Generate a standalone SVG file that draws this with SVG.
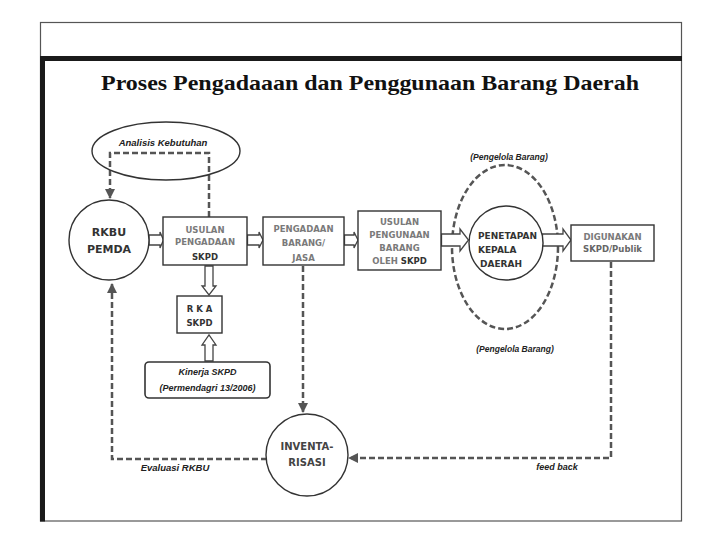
<svg xmlns="http://www.w3.org/2000/svg" width="720" height="540" viewBox="0 0 720 540">
  <defs>
    <marker id="ah" markerUnits="userSpaceOnUse" markerWidth="10" markerHeight="10" viewBox="0 0 10 10" refX="9" refY="5" orient="auto">
      <path d="M0,0 L10,5 L0,10 Z" fill="#555"/>
    </marker>
    <style>
      .box { fill: #fff; stroke: #333; stroke-width: 1.4; }
      .circ { fill: #fff; stroke: #333; stroke-width: 1.4; }
      .dash { fill: none; stroke: #555; stroke-width: 2.5; stroke-dasharray: 6 3; }
      .barrow { fill: #fff; stroke: #444; stroke-width: 1.3; stroke-linejoin: miter; }
      .t { font-family: "DejaVu Sans", Verdana, sans-serif; font-weight: bold; text-anchor: middle; }
      .it { font-family: "Liberation Sans", Arial, sans-serif; font-weight: bold; font-style: italic; text-anchor: middle; fill: #222; }
      .g { fill: #7a7a7a; }
      .d { fill: #333; }
    </style>
  </defs>

  <rect width="720" height="540" fill="#fff"/>

  <!-- frame -->
  <g id="frame">
    <rect x="40.5" y="22.5" width="641" height="498.5" fill="none" stroke="#555" stroke-width="1.2"/>
    <rect x="40" y="56" width="642" height="5" fill="#1a1a1a"/>
    <rect x="40" y="56" width="5" height="465.5" fill="#1a1a1a"/>
  </g>

  <text id="title" x="370" y="90" font-family="'Liberation Serif', 'Times New Roman', serif" font-weight="bold" font-size="22" text-anchor="middle" textLength="538" lengthAdjust="spacingAndGlyphs" fill="#111">Proses Pengadaaan dan Penggunaan Barang Daerah</text>

  <!-- connectors -->
  <g id="connectors">
    <path class="dash" d="M209,217 V153 H110 V198" marker-end="url(#ah)"/>
    <path class="dash" d="M267,459 H112 V284" marker-end="url(#ah)"/>
    <path class="dash" d="M303,266 V412" marker-end="url(#ah)"/>
    <path class="dash" d="M611,262 V458 H349" marker-end="url(#ah)"/>
    <ellipse class="dash" cx="505" cy="247" rx="53" ry="82" stroke-dasharray="7 4"/>
    <!-- block arrows -->
    <path class="barrow" d="M149,235 H160 V232 L163.5,240 L160,248 V245 H149 Z"/>
    <path class="barrow" d="M247.5,235 H259 V232 L263,240 L259,248 V245 H247.5 Z"/>
    <path class="barrow" d="M344.5,235 H354 V232 L358,240 L354,248 V245 H344.5 Z"/>
    <path class="barrow" d="M441.5,234 H460 V229 L468.5,240 L460,251 V246 H441.5 Z"/>
    <path class="barrow" d="M542.5,234 H563 V229 L571,240 L563,251 V246 H542.5 Z"/>
    <path class="barrow" d="M205,266 V286 H202 L209,295 L216,286 H213 V266 Z"/>
    <path class="barrow" d="M205,361 V345 H202 L209,335 L216,345 H213 V361 Z"/>
  </g>

  <!-- nodes -->
  <g id="analisis">
    <ellipse cx="166" cy="151" rx="74" ry="29" fill="none" stroke="#333" stroke-width="1.4"/>
    <text class="it" x="163" y="146" font-size="9.5">Analisis Kebutuhan</text>
  </g>

  <g id="rkbu">
    <circle class="circ" cx="109" cy="240" r="40"/>
    <text class="t d" x="109" y="236" font-size="11">RKBU</text>
    <text class="t d" x="109" y="253" font-size="11">PEMDA</text>
  </g>

  <g id="usulan-pengadaan">
    <rect class="box" x="163" y="217" width="84" height="48"/>
    <text class="t g" x="205" y="233" font-size="8.5">USULAN</text>
    <text class="t g" x="205" y="245" font-size="8.5">PENGADAAN</text>
    <text class="t d" x="205" y="260" font-size="8.5">SKPD</text>
  </g>

  <g id="pengadaan">
    <rect class="box" x="263" y="217" width="81" height="48"/>
    <text class="t g" x="303.5" y="232" font-size="8.5">PENGADAAN</text>
    <text class="t g" x="303.5" y="246" font-size="8.5">BARANG/</text>
    <text class="t g" x="303.5" y="261" font-size="8.5">JASA</text>
  </g>

  <g id="usulan-pengunaan">
    <rect class="box" x="358" y="211" width="83" height="59"/>
    <text class="t g" x="399.5" y="225" font-size="8.5">USULAN</text>
    <text class="t g" x="399.5" y="238" font-size="8.5">PENGUNAAN</text>
    <text class="t g" x="399.5" y="251" font-size="8.5">BARANG</text>
    <text class="t" x="399.5" y="264" font-size="8.5"><tspan class="g">OLEH </tspan><tspan class="d">SKPD</tspan></text>
  </g>

  <g id="penetapan">
    <circle class="circ" cx="506" cy="243" r="37"/>
    <text class="t d" x="478" y="239" font-size="9" style="text-anchor:start">PENETAPAN</text>
    <text class="t d" x="478" y="253" font-size="9" style="text-anchor:start">KEPALA</text>
    <text class="t d" x="480" y="267" font-size="9" style="text-anchor:start">DAERAH</text>
    <text class="it" x="509" y="160" font-size="8.5">(Pengelola Barang)</text>
    <text class="it" x="515" y="352" font-size="8.5">(Pengelola Barang)</text>
  </g>

  <g id="digunakan">
    <rect class="box" x="571" y="225" width="83" height="36"/>
    <text class="t g" x="612.5" y="240" font-size="8.5">DIGUNAKAN</text>
    <text class="t" x="612.5" y="252" font-size="8.5" fill="#666">SKPD/Publik</text>
  </g>

  <g id="rka">
    <rect class="box" x="177" y="296" width="45" height="37"/>
    <text class="t d" x="199.5" y="312" font-size="8.5">R K A</text>
    <text class="t d" x="199.5" y="326" font-size="8.5">SKPD</text>
  </g>

  <g id="kinerja">
    <rect x="145" y="362" width="125" height="36" rx="4" fill="#fff" stroke="#333" stroke-width="1.6"/>
    <text class="it" x="207.5" y="375" font-size="9">Kinerja SKPD</text>
    <text class="it" x="207.5" y="391" font-size="9">(Permendagri 13/2006)</text>
  </g>

  <g id="inventarisasi">
    <circle class="circ" cx="307" cy="455" r="41"/>
    <text class="t" x="307" y="450" font-size="10" fill="#444">INVENTA-</text>
    <text class="t" x="307" y="466" font-size="10" fill="#444">RISASI</text>
  </g>

  <g id="labels">
    <text class="it" x="175" y="471" font-size="9.5">Evaluasi RKBU</text>
    <text class="it" x="557" y="470" font-size="9">feed back</text>
  </g>
</svg>
